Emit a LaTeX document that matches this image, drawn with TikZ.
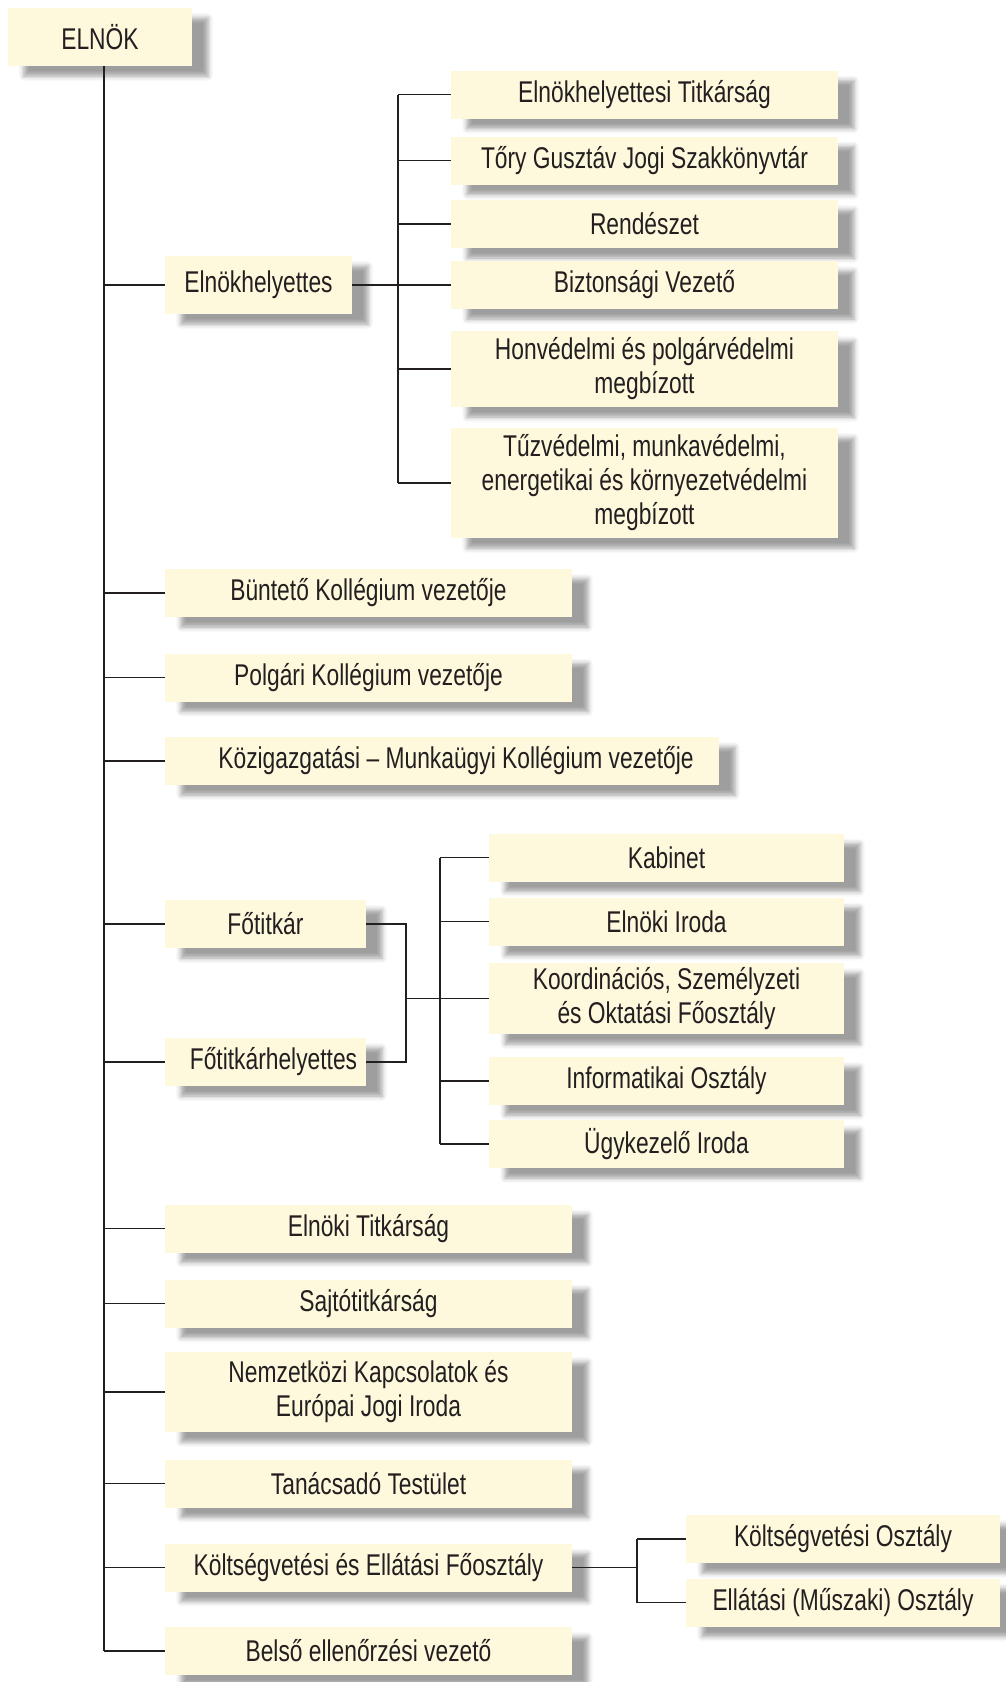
\documentclass[tikz,border=0pt]{standalone}
\usepackage{fontspec}
\setmainfont{Liberation Sans}[FakeStretch=0.76]
\usepackage{xcolor}
\usetikzlibrary{shadows.blur}
\definecolor{boxfill}{HTML}{FEF9DC}
\definecolor{inkcol}{HTML}{231F20}

\begin{document}
\begin{tikzpicture}[x=0.5pt,y=0.5pt,yscale=-1,xscale=1,
  unit/.style={fill=boxfill, text=inkcol, inner sep=0pt, align=center,
    font=\fontsize{15}{17}\selectfont, minimum height=24pt,
    blur shadow={shadow xshift=8pt, shadow yshift=-5pt, shadow blur radius=2.5pt, shadow opacity=38}},
  topbox/.style={unit, minimum width=203.5pt},
  helybox/.style={unit, minimum width=193.5pt},
  titkbox/.style={unit, minimum width=177.5pt},
  koltsbox/.style={unit, minimum width=157pt},
  link/.style={draw=inkcol, line width=0.9pt}]
\useasboundingbox (0,0) rectangle (1006,1682);

% Text Node
\node[unit, minimum width=92pt, minimum height=29pt] (elnok) at (100,37) {ELNÖK};

% Text Node
\node[unit, minimum width=93.5pt, minimum height=29pt] (elnokh) at (258.5,285) {Elnökhelyettes};
\node[helybox] (titk) at (644.5,94.5) {Elnökhelyettesi Titkárság};
\node[helybox] (tory) at (644.5,160.5) {Tőry Gusztáv Jogi Szakkönyvtár};
\node[helybox] (rend) at (644.5,224) {Rendészet};
\node[helybox] (bizt) at (644.5,285) {Biztonsági Vezető};
\node[helybox, minimum height=38pt] (honv) at (644.5,369) {Honvédelmi és polgárvédelmi\\megbízott};
\node[helybox, minimum height=55pt] (tuzv) at (644.5,483) {Tűzvédelmi, munkavédelmi,\\energetikai és környezetvédelmi\\megbízott};

% Text Node
\node[topbox] (buntet) at (368.5,593) {Büntető Kollégium vezetője};
\node[topbox] (polgari) at (368.5,677.5) {Polgári Kollégium vezetője};
\node[unit, minimum width=277pt] (kozig) at (442,761) {\hspace*{14pt}Közigazgatási – Munkaügyi Kollégium vezetője};

% Text Node
\node[unit, minimum width=100.5pt] (fotitk) at (265.5,924) {Főtitkár};
\node[unit, minimum width=100.5pt] (fotithely) at (265.5,1062) {\hspace*{8pt}Főtitkárhelyettes};
\node[titkbox] (kabinet) at (666.5,857.5) {Kabinet};
\node[titkbox] (elniroda) at (666.5,921.5) {Elnöki Iroda};
\node[titkbox, minimum height=35.5pt] (koord) at (666.5,998.5) {Koordinációs, Személyzeti\\és Oktatási Főosztály};
\node[titkbox] (informat) at (666.5,1081) {Informatikai Osztály};
\node[titkbox] (ugyk) at (666.5,1144) {Ügykezelő Iroda};

% Text Node
\node[topbox] (elntitk) at (368.5,1228.5) {Elnöki Titkárság};
\node[topbox] (sajto) at (368.5,1303.5) {Sajtótitkárság};
\node[topbox, minimum height=40pt] (nemzk) at (368.5,1392) {Nemzetközi Kapcsolatok és\\Európai Jogi Iroda};
\node[topbox] (tanacs) at (368.5,1483.5) {Tanácsadó Testület};
\node[topbox] (koltsf) at (368.5,1567.5) {Költségvetési és Ellátási Főosztály};
\node[topbox] (belso) at (368.5,1651) {Belső ellenőrzési vezető};
\node[koltsbox] (koltso) at (843,1539) {Költségvetési Osztály};
\node[koltsbox] (ellato) at (843,1602.5) {Ellátási (Műszaki) Osztály};

%Straight Lines
\coordinate (trunk) at (104,66);
\coordinate (brA) at (398,0);
\coordinate (brF) at (406,0);
\coordinate (brB) at (440,0);
\coordinate (brC) at (637,0);
\draw[link] (trunk) -- (trunk |- belso.west);
\foreach \n in {elnokh,buntet,polgari,kozig,fotitk,fotithely,elntitk,sajto,nemzk,tanacs,koltsf,belso}
  \draw[link] (trunk |- \n.west) -- (\n.west);

%Straight Lines
\draw[link] (elnokh.east) -- (brA |- elnokh.east);
\draw[link] (brA |- titk.west) -- (brA |- tuzv.west);
\foreach \n in {titk,tory,rend,bizt,honv,tuzv}
  \draw[link] (brA |- \n.west) -- (\n.west);

%Straight Lines
\draw[link] (fotitk.east) -- (brF |- fotitk.east) -- (brF |- fotithely.east) -- (fotithely.east);
\draw[link] (brF |- koord.west) -- (koord.west);
\draw[link] (brB |- kabinet.west) -- (brB |- ugyk.west);
\foreach \n in {kabinet,elniroda,informat,ugyk}
  \draw[link] (brB |- \n.west) -- (\n.west);

%Straight Lines
\draw[link] (koltsf.east) -- (brC |- koltsf.east);
\draw[link] (brC |- koltso.west) -- (brC |- ellato.west);
\foreach \n in {koltso,ellato}
  \draw[link] (brC |- \n.west) -- (\n.west);
\end{tikzpicture}
\end{document}
